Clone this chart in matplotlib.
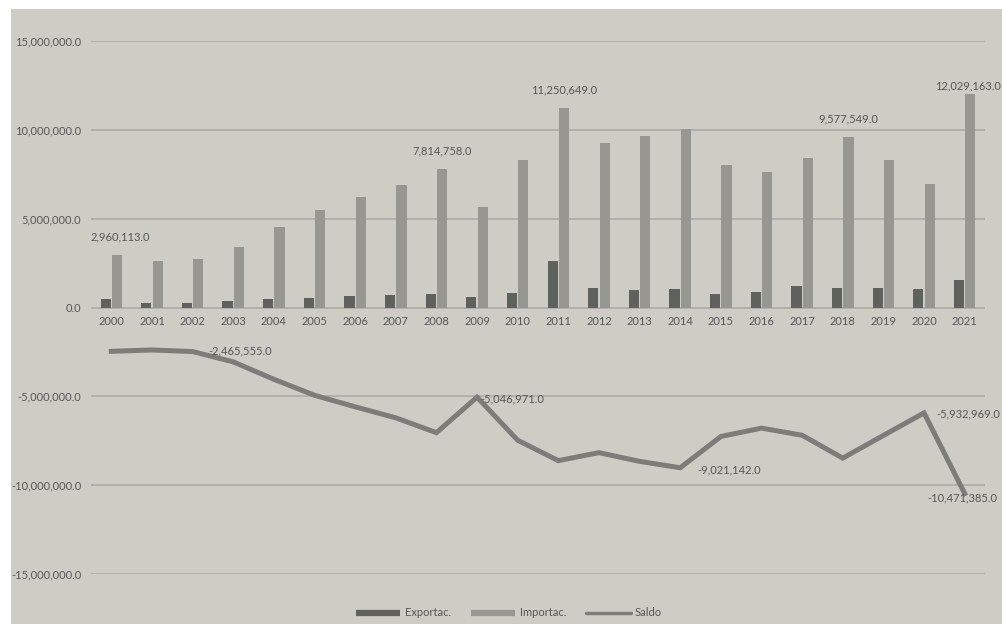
import matplotlib.pyplot as plt
from matplotlib.lines import Line2D
from matplotlib.patches import Rectangle
import numpy as np

anios = ['2000', '2001', '2002', '2003', '2004', '2005', '2006', '2007',
         '2008', '2009', '2010', '2011', '2012', '2013', '2014', '2015',
         '2016', '2017', '2018', '2019', '2020', '2021']
exportac = [494558, 240000, 240000, 340000, 470000, 560000, 620000, 680000,
            770000, 583029, 810000, 2630000, 1070000, 990000, 1030000, 770000,
            850000, 1200000, 1100000, 1100000, 1030000, 1557778]
importac = [2960113, 2630000, 2720000, 3400000, 4510000, 5500000, 6210000, 6890000,
            7814758, 5630000, 8280000, 11250649, 9240000, 9650000, 10051142, 8030000,
            7640000, 8390000, 9577549, 8300000, 6962969, 12029163]
saldo = [e - i for e, i in zip(exportac, importac)]

# etiquetas de valor: (indice, desplazamiento en puntos)
etiq_import = [(0, (2, 9)), (8, (0, 9)), (11, (0, 9)), (18, (0, 9)), (21, (-2, 2))]
etiq_saldo = [(0, (93, 0)), (9, (25, -1.5)), (14, (35, -1.5)), (20, (32, -1)), (21, (-2, -3.4))]

c_fondo = '#cdcdc5'
c_exp = '#5f615d'
c_imp = '#979792'
c_saldo = '#7c7c78'
c_grid = '#b1b1ab'
c_texto = '#555555'

plt.rcParams['font.family'] = ['Lato', 'DejaVu Sans']
plt.rcParams['font.size'] = 8

fig = plt.figure(figsize=(10.02, 6.24), dpi=100, facecolor='white')
fig.patches.append(Rectangle((11 / 1002, 0), 1, 615 / 624, transform=fig.transFigure,
                             facecolor=c_fondo, edgecolor='none', zorder=-10))
ax = fig.add_axes([91 / 1002, 50 / 624, 894 / 1002, 533 / 624])
ax.set_facecolor('none')

x = np.arange(len(anios))
ancho = 0.25
ax.bar(x - 0.14, exportac, ancho, color=c_exp, zorder=2)
ax.bar(x + 0.14, importac, ancho, color=c_imp, zorder=2)
ax.plot(x, saldo, color=c_saldo, lw=3.6, solid_joinstyle='miter', zorder=3)

for i, off in etiq_import:
    ax.annotate(f'{importac[i]:,.1f}', (x[i] + 0.14, importac[i]), xytext=off,
                textcoords='offset points', ha='center', va='bottom', color=c_texto,
                annotation_clip=False)
for i, off in etiq_saldo:
    ax.annotate(f'{saldo[i]:,.1f}', (x[i], saldo[i]), xytext=off,
                textcoords='offset points', ha='center', va='center', color=c_texto,
                annotation_clip=False, zorder=4)

ax.set_xlim(-0.5, len(anios) - 0.5)
ax.set_ylim(-15000000, 15000000)
ax.set_yticks(np.arange(-15000000, 15000001, 5000000))
ax.yaxis.set_major_formatter(lambda v, p: f'{v:,.1f}')
ax.set_xticks(x)
ax.set_xticklabels(anios)
ax.grid(axis='y', color=c_grid, lw=1.4, zorder=0)
ax.set_axisbelow(True)
for s in ['top', 'right', 'left']:
    ax.spines[s].set_visible(False)
ax.spines['bottom'].set_position(('data', 0))
ax.spines['bottom'].set_color('none')
ax.tick_params(axis='both', length=0, colors=c_texto, labelsize=8)
ax.tick_params(axis='x', pad=6)
ax.tick_params(axis='y', pad=7)

manejadores = [Line2D([], [], color=c_exp, lw=4.5, solid_capstyle='butt'),
               Line2D([], [], color=c_imp, lw=4.5, solid_capstyle='butt'),
               Line2D([], [], color=c_saldo, lw=2.5, solid_capstyle='round')]
fig.legend(manejadores, ['Exportac.', 'Importac.', 'Saldo'], loc='center',
           bbox_to_anchor=(0.508, 11 / 624), ncol=3, frameon=False, handlelength=4.0,
           handletextpad=0.4, columnspacing=1.8, labelcolor=c_texto)

fig.savefig('out.png', dpi=100, facecolor='white')
